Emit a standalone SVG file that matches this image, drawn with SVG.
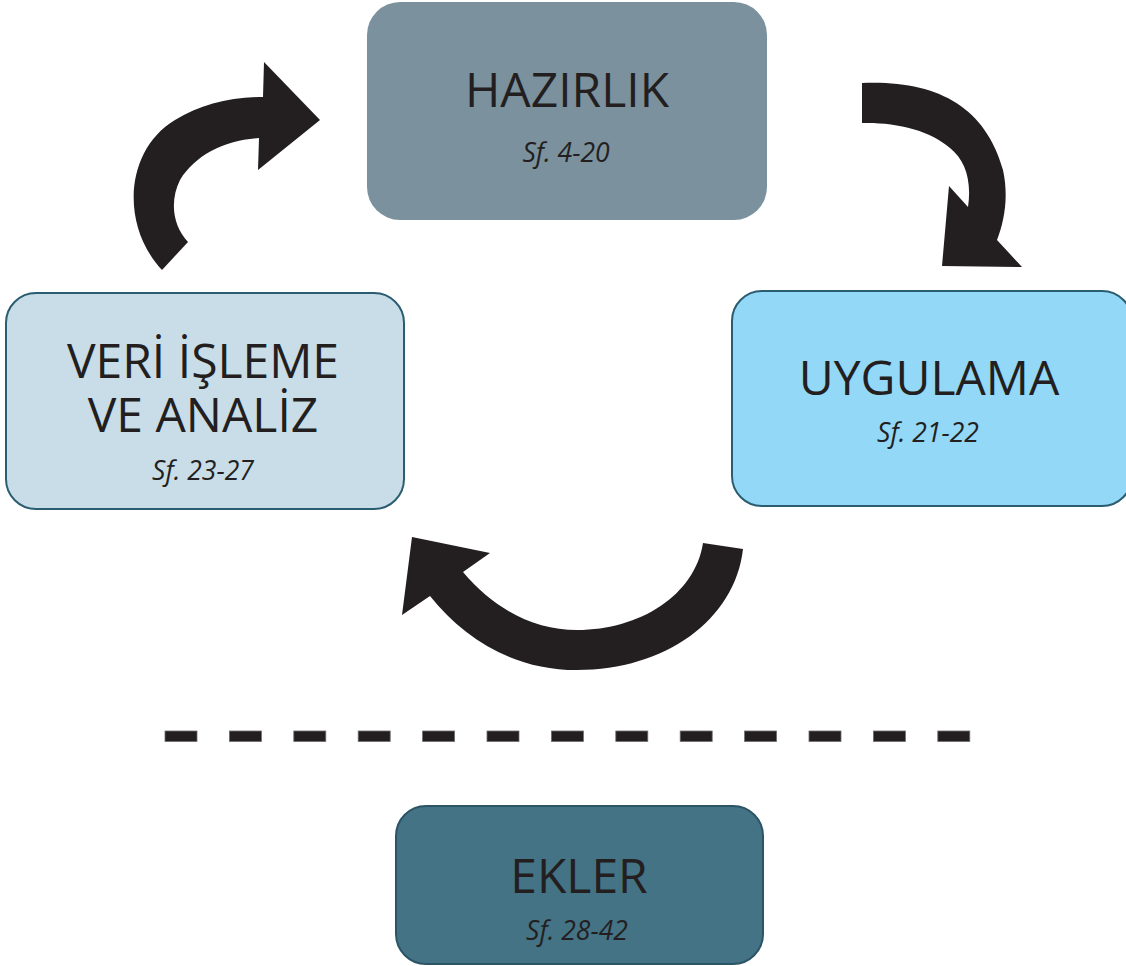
<svg xmlns="http://www.w3.org/2000/svg" width="1126" height="966" viewBox="0 0 1126 966">
<style>
.title{font-family:"Open Sans","Noto Sans",sans-serif;font-size:48px;fill:#231f20;text-anchor:middle}
.sub{font-family:"Open Sans","Noto Sans",sans-serif;font-size:26.5px;font-style:italic;fill:#231f20;text-anchor:middle}
.arrow{fill:#231f20}
.dash{fill:#231f20;stroke:#6d6e71;stroke-width:0.8}
</style>
<rect width="1126" height="966" fill="#ffffff"/>
<g id="hazirlik">
<rect x="367" y="2" width="400" height="218" rx="33" fill="#7b919e"/>
<text class="title" x="567" y="107">HAZIRLIK</text>
<text class="sub" x="566" y="162">Sf. 4-20</text>
</g>
<g id="veri-isleme">
<rect x="6" y="293" width="398" height="216" rx="30" fill="#c8dde8" stroke="#2b5d70" stroke-width="2"/>
<text class="title" x="203" y="378">VERİ İŞLEME<tspan x="203" dy="54">VE ANALİZ</tspan></text>
<text class="sub" x="203" y="480">Sf. 23-27</text>
</g>
<g id="uygulama">
<rect x="732" y="291" width="400" height="215" rx="30" fill="#93d8f6" stroke="#2b5d70" stroke-width="2"/>
<text class="title" x="929" y="395">UYGULAMA</text>
<text class="sub" x="928" y="442">Sf. 21-22</text>
</g>
<g id="ekler">
<rect x="396" y="806" width="367" height="158" rx="30" fill="#447386" stroke="#2b5466" stroke-width="2"/>
<text class="title" x="579" y="893">EKLER</text>
<text class="sub" x="577" y="940">Sf. 28-42</text>
</g>
<g id="connectors">
<path class="arrow" d="M162,270 C120,225 125,150 175,120 C200,105 230,97 263,97 L264,62 L320,120 L258,170 L259,138 C225,140 195,155 180,180 C170,200 172,225 188,242 Z"/>
<path class="arrow" d="M862,83 C935,80 985,105 1003,170 C1009,198 1004,222 997,240 L1022,267 L942,266 L949,186 L968,207 C972,180 965,160 950,148 C930,130 895,122 862,123 Z"/>
<path class="arrow" d="M703,543 L743,549 C735,620 665,670 577,670 C515,670 465,640 430,596 L402,615 L412,537 L490,553 L463,572 C495,610 535,630 577,630 C640,630 695,595 703,543 Z"/>
<g id="divider">
<rect class="dash" x="165" y="731" width="32" height="10.5"/>
<rect class="dash" x="229.4" y="731" width="32" height="10.5"/>
<rect class="dash" x="293.8" y="731" width="32" height="10.5"/>
<rect class="dash" x="358.2" y="731" width="32" height="10.5"/>
<rect class="dash" x="422.6" y="731" width="32" height="10.5"/>
<rect class="dash" x="487" y="731" width="32" height="10.5"/>
<rect class="dash" x="551.4" y="731" width="32" height="10.5"/>
<rect class="dash" x="615.8" y="731" width="32" height="10.5"/>
<rect class="dash" x="680.2" y="731" width="32" height="10.5"/>
<rect class="dash" x="744.6" y="731" width="32" height="10.5"/>
<rect class="dash" x="809" y="731" width="32" height="10.5"/>
<rect class="dash" x="873.4" y="731" width="32" height="10.5"/>
<rect class="dash" x="937.8" y="731" width="32" height="10.5"/>
</g>
</g>
</svg>
